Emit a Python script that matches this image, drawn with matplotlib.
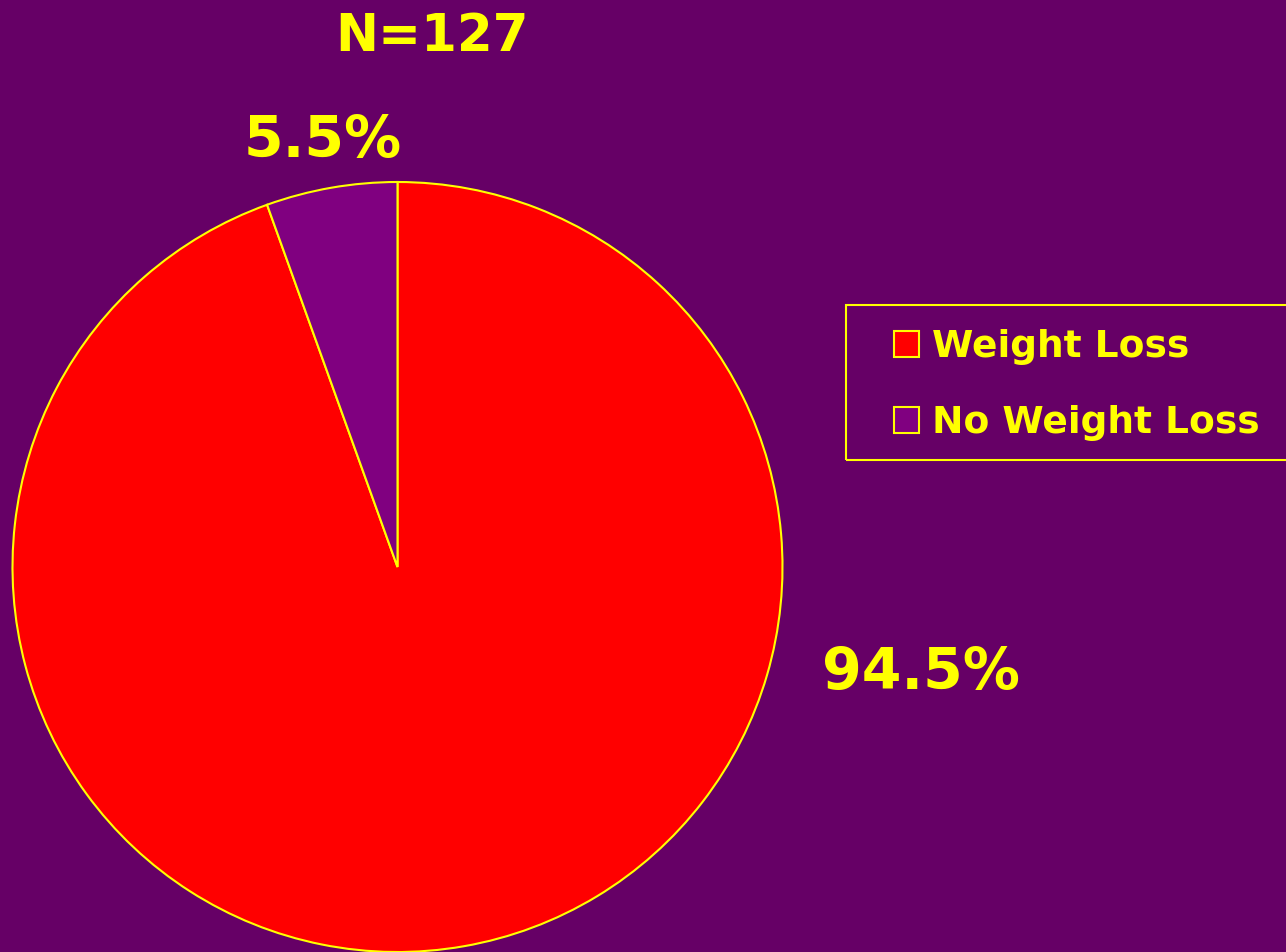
import matplotlib.pyplot as plt
from matplotlib.patches import Rectangle

labels = ['Weight Loss', 'No Weight Loss']
values = [94.5, 5.5]
pct_text = ['94.5%', '5.5%']
title = 'N=127'

bg = '#660066'
colors = ['#FF0000', '#800080']
yellow = '#FFFF00'

W, H = 1286, 952
fig = plt.figure(figsize=(W / 100, H / 100), dpi=100, facecolor=bg)

# pie axes: center (397, 567) px, radius ~385 px
cx, cy, r = 397.5, 567, 385
ax = fig.add_axes([(cx - r) / W, (H - cy - r) / H, 2 * r / W, 2 * r / H])
ax.set_facecolor(bg)
wedges, _ = ax.pie(values, colors=colors, startangle=90, counterclock=False,
                   radius=1, wedgeprops=dict(edgecolor=yellow, linewidth=1.5))
ax.set_xlim(-1, 1)
ax.set_ylim(-1, 1)
ax.set_aspect('equal')
ax.axis('off')

font = dict(family='DejaVu Sans', weight='bold', color=yellow)
fig.text(432 / W, 1 - 37 / H, title, ha='center', va='center', fontsize=37, **font)
fig.text(323 / W, 1 - 142 / H, pct_text[1], ha='center', va='center', fontsize=41, **font)
fig.text(921 / W, 1 - 673 / H, pct_text[0], ha='center', va='center', fontsize=41, **font)

# legend box
fig.patches.append(Rectangle((846 / W, (H - 460) / H), 460 / W, 155 / H,
                             transform=fig.transFigure, facecolor='none',
                             edgecolor=yellow, linewidth=1.5))
for i, (lab, col) in enumerate(zip(labels, colors)):
    y = 344 + i * 76
    fig.patches.append(Rectangle((894 / W, (H - y - 13) / H), 25 / W, 26 / H,
                                 transform=fig.transFigure, facecolor=col,
                                 edgecolor=yellow, linewidth=1.5))
    fig.text(932 / W, 1 - (y + 3) / H, lab, ha='left', va='center', fontsize=27, **font)

fig.savefig('out.png', dpi=100, facecolor=bg)
